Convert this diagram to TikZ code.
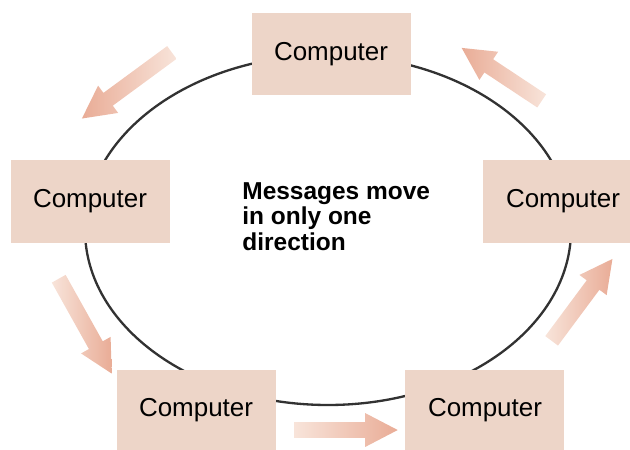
\documentclass[tikz,border=0pt]{standalone}
\usepackage{fontspec}
\setmainfont{Liberation Sans}
\usepackage{tikz}
\usetikzlibrary{shapes.arrows}
\definecolor{boxpink}{RGB}{237,213,200}
\definecolor{arrowlight}{RGB}{248,228,218}
\definecolor{arrowdark}{RGB}{233,172,150}
\definecolor{ringgray}{RGB}{50,50,50}
\tikzstyle{computer}=[fill=boxpink, minimum width=2.65cm, minimum height=1.37cm,
  inner sep=0pt, font=\fontsize{12.3}{14}\selectfont]
\tikzstyle{flow}=[single arrow, inner sep=0.125cm, single arrow head extend=0.15cm,
  single arrow tip angle=55]
\tikzstyle{flowright}=[flow, left color=arrowlight, right color=arrowdark]
\tikzstyle{flowleft}=[flow, left color=arrowdark, right color=arrowlight]

\begin{document}
\begin{tikzpicture}
\useasboundingbox (0,0) rectangle (10.5,7.5);
\draw[ringgray, line width=1.1pt] (5.467,3.667) ellipse (4.05cm and 2.917cm); % the ring
\node[computer] (top) at (5.517,6.6) {Computer};
\node[computer] (left) at (1.5,4.142) {Computer};
\node[computer] (right) at (9.383,4.142) {Computer};
\node[computer, minimum height=1.333cm] (botleft) at (3.267,0.667) {Computer};
\node[computer, minimum height=1.333cm] (botright) at (8.083,0.667) {Computer};
\node[anchor=north west, inner sep=0pt, align=left,
  font=\bfseries\fontsize{11.6}{12.2}\selectfont] (msg) at (4.033,4.47)
  {Messages move\\in only one\\direction};
\foreach \x/\y/\a/\l/\s/\n in {2.217/6.15/216.3/1.86/flowleft/m1,
  1.358/2.175/-60.8/1.81/flowright/m2, 5.642/0.333/0/1.72/flowright/m3,
  9.625/2.4/53.4/1.70/flowright/m4, 8.467/6.19/146.5/1.6/flowleft/m5} % the flow arrows
\node[\s, rotate=\a, minimum height=\l cm] (\n) at (\x,\y) {};
\end{tikzpicture}
\end{document}
